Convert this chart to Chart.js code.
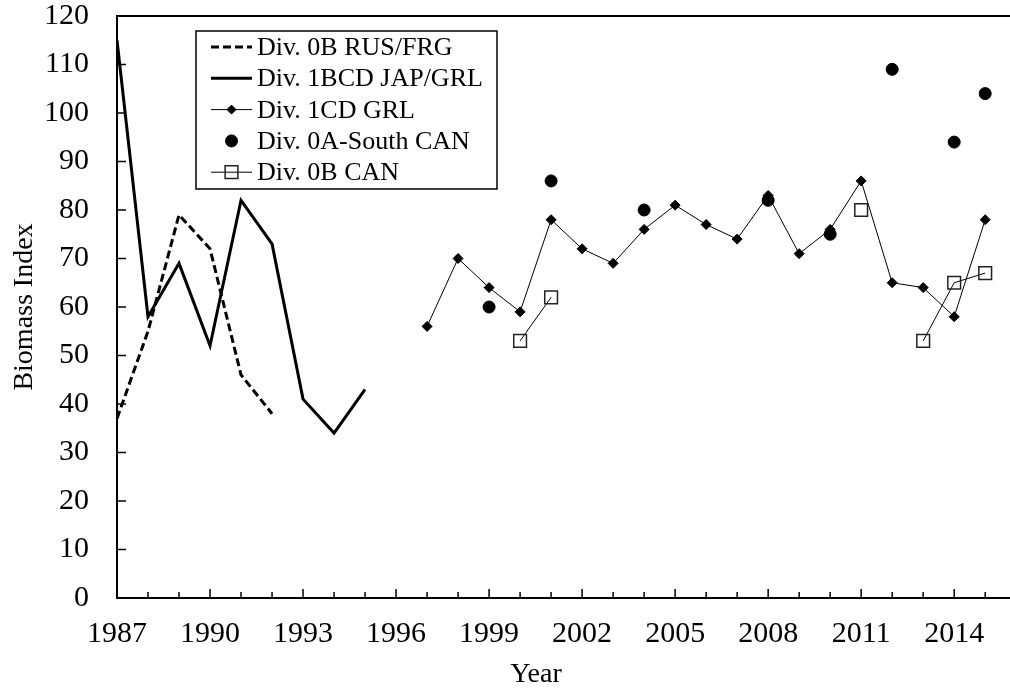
<!DOCTYPE html>
<html>
<head>
<meta charset="utf-8">
<script src="https://cdn.jsdelivr.net/npm/chart.js@4"></script>
<style>
  html, body { margin: 0; padding: 0; background: #fff; }
  #wrap { width: 1010px; height: 689px; }
</style>
</head>
<body>
<div id="wrap"><canvas id="biomassChart" width="1010" height="689"></canvas></div>
<script>
const years = [1987, 1988, 1989, 1990, 1991, 1992, 1993, 1994, 1995, 1996,
               1997, 1998, 1999, 2000, 2001, 2002, 2003, 2004, 2005, 2006,
               2007, 2008, 2009, 2010, 2011, 2012, 2013, 2014, 2015];

// Div. 0B RUS/FRG
const rusFrg = [37, 55, 79, 72, 46, 38, null, null, null, null,
                null, null, null, null, null, null, null, null, null, null,
                null, null, null, null, null, null, null, null, null];
// Div. 1BCD JAP/GRL
const japGrl = [115, 58, 69, 52, 82, 73, 41, 34, 43, null,
                null, null, null, null, null, null, null, null, null, null,
                null, null, null, null, null, null, null, null, null];
// Div. 1CD GRL
const grl1cd = [null, null, null, null, null, null, null, null, null, null,
                56, 70, 64, 59, 78, 72, 69, 76, 81, 77,
                74, 83, 71, 76, 86, 65, 64, 58, 78];
// Div. 0A-South CAN
const south0a = [null, null, null, null, null, null, null, null, null, null,
                 null, null, 60, null, 86, null, null, 80, null, null,
                 null, 82, null, 75, null, 109, null, 94, 104];
// Div. 0B CAN
const can0b = [null, null, null, null, null, null, null, null, null, null,
               null, null, null, 53, 62, null, null, null, null, null,
               null, null, null, null, 80, null, 53, 65, 67];

const yTicks = [0, 10, 20, 30, 40, 50, 60, 70, 80, 90, 100, 110, 120];
const labelEvery = 3;

const FONT = '"Liberation Serif", "Times New Roman", serif';

function toPoints(values) {
  return years.map((yr, i) => ({ x: yr, y: values[i] }));
}

// tick marks point inward, plus top frame line, legend and axis titles
const decorations = {
  id: 'decorations',
  afterDraw(chart) {
    const { ctx, chartArea: a, scales: { x, y } } = chart;
    ctx.save();
    ctx.strokeStyle = '#000';
    ctx.lineWidth = 1.5;

    x.ticks.forEach(t => {
      const px = x.getPixelForValue(t.value);
      const len = (t.value - years[0]) % labelEvery === 0 ? 9 : 6;
      ctx.beginPath();
      ctx.moveTo(px, a.bottom);
      ctx.lineTo(px, a.bottom - len);
      ctx.stroke();
    });
    y.ticks.forEach(t => {
      const py = y.getPixelForValue(t.value);
      ctx.beginPath();
      ctx.moveTo(a.left, py);
      ctx.lineTo(a.left + 9, py);
      ctx.stroke();
    });

    // top frame
    ctx.lineWidth = 2;
    ctx.beginPath();
    ctx.moveTo(a.left, a.top);
    ctx.lineTo(a.right, a.top);
    ctx.stroke();

    // axis titles
    ctx.fillStyle = '#000';
    ctx.font = '28px ' + FONT;
    ctx.textAlign = 'center';
    ctx.textBaseline = 'alphabetic';
    ctx.fillText('Year', 536, 682);
    ctx.save();
    ctx.translate(32, (a.top + a.bottom) / 2);
    ctx.rotate(-Math.PI / 2);
    ctx.fillText('Biomass Index', 0, 0);
    ctx.restore();

    // legend
    const bx = a.left + 79, by = a.top + 15, bw = 301, bh = 158;
    ctx.fillStyle = '#fff';
    ctx.fillRect(bx, by, bw, bh);
    ctx.lineWidth = 1.5;
    ctx.strokeStyle = '#000';
    ctx.strokeRect(bx, by, bw, bh);

    ctx.font = '26px ' + FONT;
    ctx.textAlign = 'left';
    chart.data.datasets.forEach((ds, i) => {
      const cy = by + 16 + i * 31.3;
      const x0 = bx + 15, x1 = bx + 56, xm = (x0 + x1) / 2;
      ctx.strokeStyle = '#000';
      if (ds.showLine !== false) {
        ctx.lineWidth = ds.borderWidth;
        ctx.setLineDash(ds.borderDash || []);
        ctx.beginPath();
        ctx.moveTo(x0, cy);
        ctx.lineTo(x1, cy);
        ctx.stroke();
        ctx.setLineDash([]);
      }
      if (ds.pointRadius > 0) {
        ctx.lineWidth = ds.pointBorderWidth || 1;
        ctx.fillStyle = ds.pointBackgroundColor;
        ctx.strokeStyle = ds.pointBorderColor;
        Chart.helpers.drawPoint(ctx, {
          pointStyle: ds.pointStyle,
          radius: ds.legendRadius,
          borderWidth: ds.pointBorderWidth || 1
        }, xm, cy);
      }
      ctx.fillStyle = '#000';
      ctx.fillText(ds.label, bx + 61, cy + 8);
    });
    ctx.restore();
  }
};

new Chart(document.getElementById('biomassChart'), {
  type: 'line',
  data: {
    datasets: [
      {
        label: 'Div. 0B RUS/FRG',
        data: toPoints(rusFrg),
        borderColor: '#000',
        borderWidth: 3,
        borderDash: [8, 4],
        pointRadius: 0,
        legendRadius: 0
      },
      {
        label: 'Div. 1BCD JAP/GRL',
        data: toPoints(japGrl),
        borderColor: '#000',
        borderWidth: 3,
        pointRadius: 0,
        legendRadius: 0
      },
      {
        label: 'Div. 1CD GRL',
        data: toPoints(grl1cd),
        borderColor: '#000',
        borderWidth: 1,
        pointStyle: 'rectRot',
        pointRadius: 5,
        legendRadius: 4.5,
        pointBackgroundColor: '#000',
        pointBorderColor: '#000',
        pointBorderWidth: 1
      },
      {
        label: 'Div. 0A-South CAN',
        data: toPoints(south0a),
        showLine: false,
        borderColor: '#000',
        pointStyle: 'circle',
        pointRadius: 6,
        legendRadius: 6,
        pointBackgroundColor: '#000',
        pointBorderColor: '#000',
        pointBorderWidth: 1
      },
      {
        label: 'Div. 0B CAN',
        data: toPoints(can0b),
        borderColor: '#000',
        borderWidth: 1,
        pointStyle: 'rect',
        pointRadius: 9,
        legendRadius: 9,
        pointBackgroundColor: 'rgba(0,0,0,0)',
        pointBorderColor: '#222',
        pointBorderWidth: 1.5
      }
    ]
  },
  options: {
    responsive: false,
    animation: false,
    events: [],
    spanGaps: false,
    layout: { autoPadding: false, padding: { top: 16, right: 0, left: 0, bottom: 0 } },
    plugins: {
      legend: { display: false },
      tooltip: { enabled: false }
    },
    scales: {
      x: {
        type: 'linear',
        min: 1987,
        max: 2015.8,
        afterFit(scale) {
          scale.height = 91;
          scale.paddingLeft = 0;
          scale.paddingRight = 0;
        },
        grid: { display: false, drawTicks: false },
        border: { display: true, color: '#000', width: 2 },
        ticks: {
          stepSize: 1,
          includeBounds: false,
          autoSkip: false,
          maxRotation: 0,
          padding: 18,
          color: '#000',
          font: { family: FONT, size: 30 },
          callback: v => (v - years[0]) % labelEvery === 0 ? String(v) : ''
        }
      },
      y: {
        min: yTicks[0],
        max: yTicks[yTicks.length - 1],
        afterFit(scale) {
          scale.width = 117;
          scale.paddingTop = 0;
          scale.paddingBottom = 0;
        },
        afterBuildTicks(scale) { scale.ticks = yTicks.map(v => ({ value: v })); },
        grid: { display: false, drawTicks: false },
        border: { display: true, color: '#000', width: 2 },
        ticks: {
          padding: 28,
          color: '#000',
          font: { family: FONT, size: 30 }
        }
      }
    }
  },
  plugins: [decorations]
});
</script>
</body>
</html>
